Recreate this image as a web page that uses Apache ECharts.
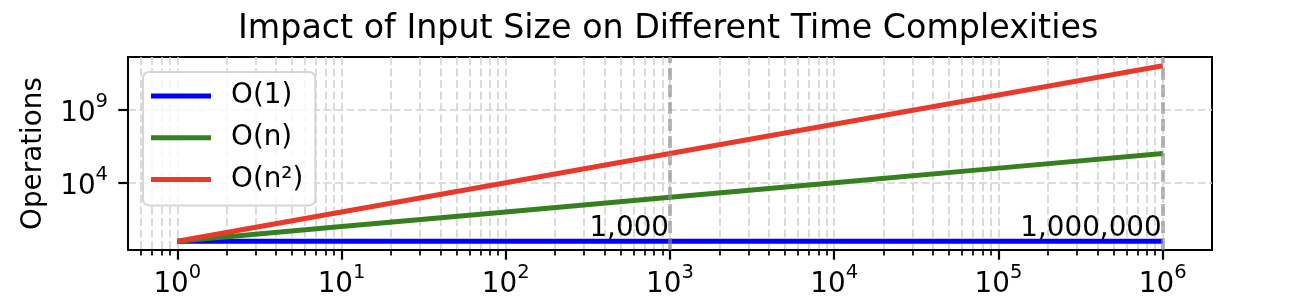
<!DOCTYPE html>
<html>
<head>
<meta charset="utf-8">
<script src="https://cdn.jsdelivr.net/npm/echarts@6/dist/echarts.min.js"></script>
<style>
  html, body { margin: 0; padding: 0; background: #fff; }
  #chart { width: 1302px; height: 308px; }
</style>
</head>
<body>
<div id="chart"></div>
<script>
const inputSizes = [1, 10, 100, 1000, 10000, 100000, 1000000];
const constantOps = [1, 1, 1, 1, 1, 1, 1];
const linearOps = [1, 10, 100, 1000, 10000, 100000, 1000000];
const quadraticOps = [1, 100, 10000, 1000000, 100000000, 10000000000, 1000000000000];

const seriesNames = ["O(1)", "O(n)", "O(n²)"];
const seriesColors = ["#0000ff", "#36801f", "#e8392b"];

const xMajorTicks = [1, 10, 100, 1000, 10000, 100000, 1000000];
const xMinorTicks = [0.6, 0.7, 0.8, 0.9,
  2, 3, 4, 5, 6, 7, 8, 9,
  20, 30, 40, 50, 60, 70, 80, 90,
  200, 300, 400, 500, 600, 700, 800, 900,
  2000, 3000, 4000, 5000, 6000, 7000, 8000, 9000,
  20000, 30000, 40000, 50000, 60000, 70000, 80000, 90000,
  200000, 300000, 400000, 500000, 600000, 700000, 800000, 900000];
const yMajorTicks = [10000, 1000000000];

const markerX = [1000, 1000000];
const markerLabels = ["1,000", "1,000,000"];

const FONT = "DejaVu Sans";
const FS = 27.8;

const chart = echarts.init(document.getElementById("chart"), null, { renderer: "canvas" });

function powLabel(v) {
  const e = Math.round(Math.log10(v));
  return "{b|10}{s|" + e + "}";
}

const richPow = {
  b: { fontFamily: FONT, fontSize: FS, color: "#000", lineHeight: 36, verticalAlign: "bottom" },
  s: { fontFamily: FONT, fontSize: 19.5, color: "#000", lineHeight: 20, verticalAlign: "top" }
};

const gridLine = { type: [8, 3.5], color: "#d2d2d2", width: 1.6 };

const lineSeries = [constantOps, linearOps, quadraticOps].map((vals, i) => ({
  name: seriesNames[i],
  type: "line",
  data: inputSizes.map((x, j) => [x, vals[j]]),
  showSymbol: false,
  symbol: "none",
  lineStyle: { color: seriesColors[i], width: 5 },
  itemStyle: { color: seriesColors[i] },
  z: 2 + i,
  animation: false
}));

chart.setOption({
  animation: false,
  backgroundColor: "#fff",
  title: {
    text: "Impact of Input Size on Different Time Complexities",
    left: 238,
    top: 13,
    padding: 0,
    textStyle: { fontFamily: FONT, fontSize: 33.3, fontWeight: "normal", color: "#000" }
  },
  legend: {
    data: seriesNames,
    orient: "vertical",
    left: 143,
    top: 72,
    icon: "rect",
    itemWidth: 60,
    itemHeight: 5,
    itemGap: 13.7,
    padding: [10, 12, 12, 8],
    backgroundColor: "rgba(255,255,255,0.8)",
    borderColor: "#d6d6d6",
    borderWidth: 2,
    borderRadius: 6,
    textStyle: { fontFamily: FONT, fontSize: FS, color: "#000", padding: [0, 0, 0, 15] }
  },
  grid: {
    left: 128,
    right: 90,
    top: 57,
    bottom: 58,
    show: true,
    borderColor: "#000",
    borderWidth: 2,
    backgroundColor: "transparent"
  },
  xAxis: [
    {
      type: "log",
      min: Math.pow(10, -0.3),
      max: Math.pow(10, 6.3),
      axisLine: { show: true, lineStyle: { color: "#000", width: 2 } },
      axisTick: { show: true, customValues: xMajorTicks, length: 9.7, lineStyle: { color: "#000", width: 2.2 } },
      axisLabel: {
        customValues: xMajorTicks,
        formatter: powLabel,
        rich: richPow,
        margin: 13
      },
      splitLine: { show: true, lineStyle: gridLine },
      z: 1
    },
    {
      type: "log",
      min: Math.pow(10, -0.3),
      max: Math.pow(10, 6.3),
      position: "bottom",
      axisLine: { show: false },
      axisTick: { show: true, customValues: xMinorTicks, length: 5.5, lineStyle: { color: "#000", width: 1.7 } },
      axisLabel: { show: false },
      splitLine: { show: true, lineStyle: gridLine },
      z: 1
    }
  ],
  yAxis: {
    type: "log",
    min: Math.pow(10, -0.6),
    max: Math.pow(10, 12.6),
    name: "Operations",
    nameLocation: "middle",
    nameRotate: 90,
    nameGap: 80,
    nameTextStyle: { fontFamily: FONT, fontSize: FS, color: "#000" },
    axisLine: { show: true, lineStyle: { color: "#000", width: 2 } },
    axisTick: { show: true, customValues: yMajorTicks, length: 9.7, lineStyle: { color: "#000", width: 2.2 } },
    axisLabel: {
      customValues: yMajorTicks,
      formatter: powLabel,
      rich: richPow,
      margin: 20
    },
    splitLine: { show: true, lineStyle: gridLine }
  },
  series: lineSeries.concat([
    {
      name: "markers",
      type: "scatter",
      data: markerX.map((x, i) => ({ value: [x, 1], label: { formatter: markerLabels[i] } })),
      symbolSize: 0,
      z: 10,
      emphasis: { disabled: true },
      label: {
        show: true,
        position: "left",
        distance: 1,
        verticalAlign: "bottom",
        offset: [0, 2],
        fontFamily: FONT,
        fontSize: FS,
        color: "#000",
        opacity: 1,
        textBorderWidth: 0
      },
      markLine: {
        silent: true,
        symbol: "none",
        label: { show: false },
        lineStyle: { color: "rgba(140,140,140,0.6)", width: 4, type: [12, 5] },
        data: markerX.map(x => ({ xAxis: x })),
        z: 10
      }
    }
  ])
});
</script>
</body>
</html>
